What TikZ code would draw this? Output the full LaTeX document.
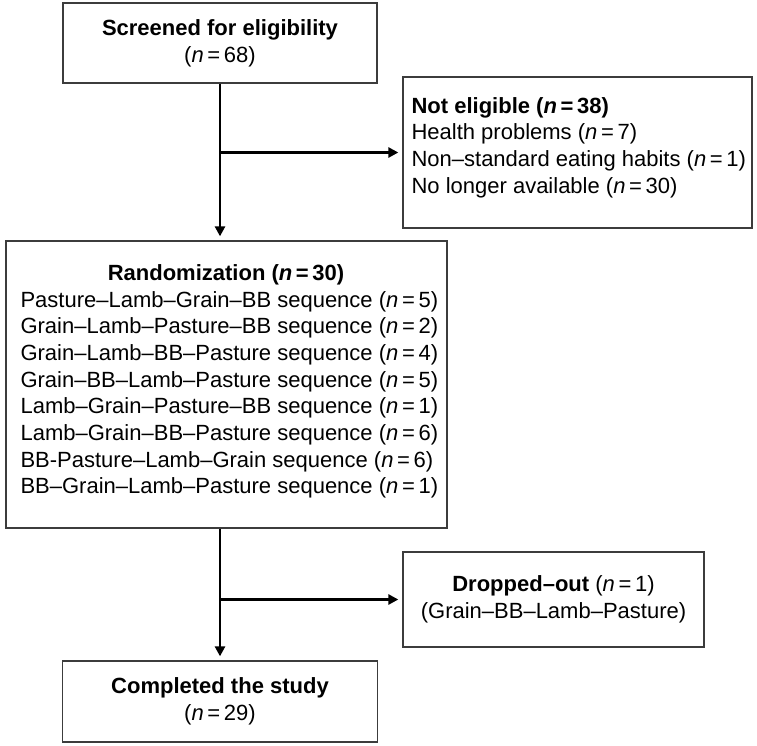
\documentclass[tikz,border=0pt]{standalone}
\usepackage{fontspec}
\setmainfont{Liberation Sans}
\usepackage{xcolor}
\definecolor{FlowLine}{RGB}{60, 60, 60}
\usepackage{tikz}
\usetikzlibrary{arrows.meta, positioning, calc}

\begin{document}
\begin{tikzpicture}[
        x=1pt, y=-1pt,
        every node/.style={font=\fontsize{22}{26.7}\selectfont},
        box/.style={rectangle, draw=FlowLine, line width=1.3pt, fill=white, align=center, inner sep=0pt},
        list/.style={align=left, inner sep=0pt},
        link/.style={-{Triangle[length=10pt, width=10pt]}, line width=2.6pt, color=black, shorten >=4pt}
    ]
        \useasboundingbox (0,0) rectangle (757,745);

        % --- BOXES ---
        \node[box, minimum width=314pt, minimum height=80pt] (screen) at (220,43)
            {\textbf{Screened for eligibility}\\(\textit{n}\,=\,68)};

        \node[box, minimum width=349pt, minimum height=151pt] (noelig) at (577.5,152.5) {};
        \node[list, anchor=west] (noeligtext) at ([xshift=9pt, yshift=5pt]noelig.west)
            {\textbf{Not eligible (\textit{n}\,=\,38)}\\
             Health problems (\textit{n}\,=\,7)\\
             Non–standard eating habits (\textit{n}\,=\,1)\\
             No longer available (\textit{n}\,=\,30)};

        \node[box, minimum width=441pt, minimum height=287pt] (rand) at (226.5,384.5) {};
        \node[list, anchor=west] (randtext) at ([xshift=15pt, yshift=3pt]rand.west)
            {\makebox[411pt][c]{\textbf{Randomization (\textit{n}\,=\,30)}}\\
             Pasture–Lamb–Grain–BB sequence (\textit{n}\,=\,5)\\
             Grain–Lamb–Pasture–BB sequence (\textit{n}\,=\,2)\\
             Grain–Lamb–BB–Pasture sequence (\textit{n}\,=\,4)\\
             Grain–BB–Lamb–Pasture sequence (\textit{n}\,=\,5)\\
             Lamb–Grain–Pasture–BB sequence (\textit{n}\,=\,1)\\
             Lamb–Grain–BB–Pasture sequence (\textit{n}\,=\,6)\\
             BB-Pasture–Lamb–Grain sequence (\textit{n}\,=\,6)\\
             BB–Grain–Lamb–Pasture sequence (\textit{n}\,=\,1)};

        \node[box, minimum width=301pt, minimum height=95pt] (drop) at (553.5,599.5)
            {\textbf{Dropped–out} (\textit{n}\,=\,1)\\(Grain–BB–Lamb–Pasture)};

        \node[box, minimum width=315pt, minimum height=81pt] (done) at (220,701.5)
            {\textbf{Completed the study}\\(\textit{n}\,=\,29)};

        % --- CONNECTIONS ---
        \draw[link] (screen.south) -- (screen.south |- rand.north);
        \draw[link] (screen.south |- noelig.west) -- (noelig.west);
        \draw[link] (rand.south -| done.north) -- (done.north);
        \draw[link] (done.north |- drop.west) -- (drop.west);

    \end{tikzpicture}
\end{document}
